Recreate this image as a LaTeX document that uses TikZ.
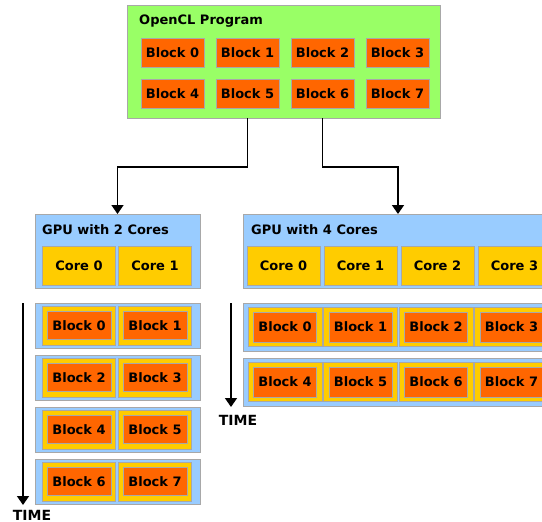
\documentclass[tikz,border=0pt]{standalone}
\usepackage{fontspec}
\setmainfont{DejaVu Sans}
\usepackage{xcolor}
\usetikzlibrary{arrows.meta,calc,positioning}
\definecolor{cProg}{HTML}{99FF66}
\definecolor{cBlock}{HTML}{FF6600}
\definecolor{cCore}{HTML}{FFCC00}
\definecolor{cGpu}{HTML}{99CCFF}
\definecolor{cEdge}{HTML}{A8A8A8}
\tikzset{
  >={Triangle[width=12pt,length=9pt]},
  box/.style   ={draw=cEdge,line width=1pt,inner sep=0pt,outer sep=0pt},
  prog/.style  ={box,fill=cProg,minimum width=313pt,minimum height=113pt},
  gpu/.style   ={box,fill=cGpu,minimum height=74pt},
  lane/.style  ={box,fill=cGpu},
  core/.style  ={box,fill=cCore,minimum width=73pt,minimum height=39pt,font=\fontsize{13pt}{15pt}\selectfont\bfseries},
  blk/.style   ={box,fill=cBlock,minimum width=63pt,minimum height=29pt,font=\fontsize{13pt}{15pt}\selectfont\bfseries},
  title/.style ={anchor=west,inner sep=0pt,font=\fontsize{13pt}{15pt}\selectfont\bfseries},
  timelbl/.style={inner sep=0pt,font=\fontsize{14pt}{16pt}\selectfont\bfseries},
  flow/.style  ={->,line width=1.6pt,black},
}
\begin{document}
\begin{tikzpicture}[x=1pt,y=-1pt]
  \fill[white] (0,0) rectangle (542,522);
  \clip (0,0) rectangle (542,522);

  % program and its work blocks
  \node[prog] (prog) at (283.5,61.5) {};
  \node[title] (progTitle) at (139,21) {OpenCL Program};
  \foreach \i in {0,...,3} {
    \pgfmathtruncatemacro\j{\i+4}
    \node[blk] (p\i) at (172.5+75*\i,52.5) {Block \i};
    \node[blk] (p\j) at (172.5+75*\i,93.5) {Block \j};
  }

  % the two devices
  \node[gpu,minimum width=165pt] (gpuA) at (117.5,251) {};
  \node[title] (gpuATitle) at (42,230) {GPU with 2 Cores};
  \foreach \c in {0,1}
    \node[core] (coreA\c) at (79+76*\c,265.5) {Core \c};

  \node[gpu,minimum width=310pt] (gpuB) at (398,251) {};
  \node[title] (gpuBTitle) at (251,230) {GPU with 4 Cores};
  \foreach \c in {0,...,3}
    \node[core] (coreB\c) at (283.5+77*\c,265.5) {Core \c};

  \draw[flow] (p1.center |- prog.south) -- ++(0,49) -| (gpuA.north);
  \draw[flow] (p2.center |- prog.south) -- ++(0,49) -| (gpuB.north);

  % two cores: four rounds
  \foreach \r in {0,...,3} {
    \pgfmathsetmacro\y{325.5+52*\r}
    \node[lane,minimum width=165pt,minimum height=45pt] (laneA\r) at (117.5,\y) {};
    \foreach \c in {0,1} {
      \pgfmathtruncatemacro\k{2*\r+\c}
      \node[core,minimum height=39pt] (slotA\k) at (79+76*\c,\y) {};
      \node[blk,minimum width=64pt,minimum height=28pt] (runA\k) at (79+76*\c,\y) {Block \k};
    }
  }
  \coordinate (timeA0) at (23,303);
  \coordinate (timeA1) at (23,505);
  \draw[flow] (timeA0) -- (timeA1);
  \node[timelbl] (timeALbl) at (32,515) {TIME};

  % four cores: two rounds
  \foreach \r in {0,1} {
    \pgfmathsetmacro\y{327+55*\r}
    \node[lane,minimum width=310pt,minimum height=48pt] (laneB\r) at (398,\y) {};
    \foreach \c in {0,...,3} {
      \pgfmathtruncatemacro\k{4*\r+\c}
      \node[core,minimum width=74pt] (slotB\k) at (285+75.5*\c,\y) {};
      \node[blk,minimum height=30pt] (runB\k) at (285+75.5*\c,\y) {Block \k};
    }
  }
  \coordinate (timeB0) at (231,303);
  \coordinate (timeB1) at (231,407);
  \draw[flow] (timeB0) -- (timeB1);
  \node[timelbl] (timeBLbl) at (238,420) {TIME};
\end{tikzpicture}
\end{document}
